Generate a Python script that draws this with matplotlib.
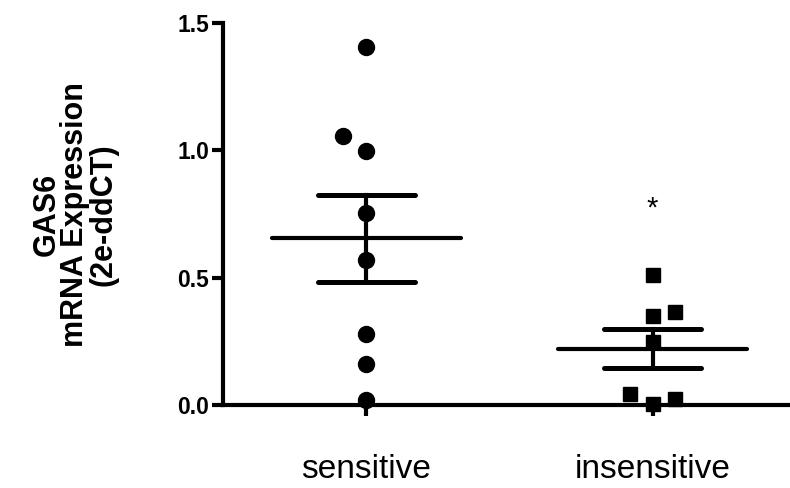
import matplotlib.pyplot as plt
import numpy as np

plt.rcParams["font.family"] = ["Liberation Sans", "DejaVu Sans"]

groups = ["sensitive", "insensitive"]
sensitive = [1.405, 1.055, 0.996, 0.752, 0.571, 0.280, 0.161, 0.020]
sensitive_offset = [0.0, -0.08, 0.0, 0.0, 0.0, 0.0, 0.0, 0.0]
insensitive = [0.512, 0.366, 0.350, 0.248, 0.043, 0.004, 0.025]
insensitive_offset = [0.0, 0.08, 0.0, 0.0, -0.08, 0.0, 0.08]
star_y = 0.77

fig = plt.figure(figsize=(7.9, 4.88), dpi=100)
ax = fig.add_axes([223 / 790, 83 / 488, 567 / 790, 382 / 488])

lw = 3.0
for i, (vals, offs, marker) in enumerate(
    [(sensitive, sensitive_offset, "o"), (insensitive, insensitive_offset, "s")]
):
    xpos = i + 1
    vals = np.array(vals)
    mean = vals.mean()
    sem = vals.std(ddof=1) / np.sqrt(len(vals))
    ax.plot(xpos + np.array(offs), vals, linestyle="none", marker=marker,
            markersize=11.5 if marker == "o" else 10.5, color="black",
            clip_on=False, zorder=3)
    ax.plot([xpos - 0.33, xpos + 0.33], [mean, mean], color="black", lw=lw,
            solid_capstyle="round", zorder=2)
    ax.plot([xpos, xpos], [mean - sem, mean + sem], color="black", lw=lw, zorder=2)
    for y in (mean - sem, mean + sem):
        ax.plot([xpos - 0.17, xpos + 0.17], [y, y], color="black", lw=lw + 0.6,
                solid_capstyle="round", zorder=2)

ax.text(2, star_y, "*", ha="center", va="center", fontsize=21)

ax.set_xlim(0.5, 2.48)
ax.set_ylim(0, 1.5)
ax.set_yticks([0.0, 0.5, 1.0, 1.5])
ax.set_yticklabels(["0.0", "0.5", "1.0", "1.5"], fontsize=16.5, fontweight="bold")
ax.set_xticks([1, 2])
ax.set_xticklabels(groups, fontsize=24)
ax.tick_params(axis="both", direction="out", length=8, width=lw)
ax.tick_params(axis="y", pad=2)
ax.tick_params(axis="x", pad=27)

for side in ("top", "right"):
    ax.spines[side].set_visible(False)
for side in ("left", "bottom"):
    ax.spines[side].set_linewidth(lw)

fig.text(75 / 790, 0.56, "GAS6\nmRNA Expression\n(2e-ddCT)", rotation=90,
         ha="center", va="center", multialignment="center", fontsize=22,
         fontweight="bold", linespacing=0.93)

fig.savefig("out.png", dpi=100)
